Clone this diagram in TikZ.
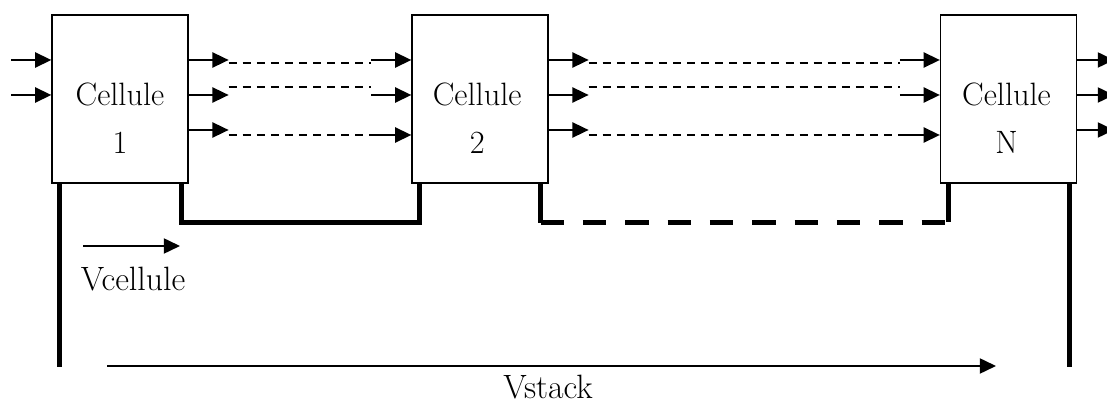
\documentclass[tikz,border=0pt]{standalone}
\usepackage{fontspec}
\usetikzlibrary{arrows.meta}

\tikzset{
  cell/.style={draw,line width=0.9pt,minimum width=3.4cm,minimum height=4.2cm,inner sep=0pt},
  celltext/.style={align=center,font=\fontsize{23}{27.6}\selectfont},
  sig/.style={line width=1.4pt,-{Triangle[length=11.5pt,width=10.7pt]}},
  thindash/.style={line width=1.4pt,dash pattern=on 5.7pt off 4.3pt},
  wire/.style={line width=3.6pt},
  wiredash/.style={line width=3.6pt,dash pattern=on 16.6pt off 13.5pt},
  volt/.style={font=\fontsize{24}{28}\selectfont,anchor=base,inner sep=1pt}
}

\begin{document}
\begin{tikzpicture}[x=0.025cm,y=-0.025cm,line join=miter]
  \useasboundingbox (0,0) rectangle (1107,405);

  % cells
  \node[cell] (c1) at (120,99) {};
  \node[cell] (c2) at (480,99) {};
  \node[cell] (cN) at (1008.5,99) {};
  \node[celltext] (t1) at ([yshift=-0.48cm]c1.center) {Cellule\\[7.2pt]1};
  \node[celltext] (t2) at ([yshift=-0.48cm,xshift=-0.07cm]c2.center) {Cellule\\[7.2pt]2};
  \node[celltext] (tN) at ([yshift=-0.48cm,xshift=-0.05cm]cN.center) {Cellule\\[7.2pt]N};

  % inputs of cell 1
  \foreach \y in {60,95} {
    \coordinate (in) at (11,\y);
    \draw[sig] (in) -- (c1.west |- in);
  }

  % links between cells
  \foreach \src/\dst in {c1/c2,c2/cN} {
    \foreach \yo/\yd/\yi in {60/63/60,95/87/95,130/135/135} {
      \path (\src.east |- 0,\yo) ++(40,0) coordinate (a);
      \path (\dst.west |- 0,\yi) ++(-40,0) coordinate (b);
      \draw[sig] (\src.east |- a) -- (a);
      \draw[thindash] (a |- 0,\yd) -- (b |- 0,\yd);
      \draw[sig] (b) -- (\dst.west |- b);
    }
  }

  % outputs of cell N
  \foreach \y in {60,95,130} {
    \coordinate (out) at (1114,\y);
    \draw[sig] (cN.east |- out) -- (out);
  }

  % series wiring
  \coordinate (l1) at ([xshift=0.2cm]c1.south west);
  \coordinate (r1) at ([xshift=-0.175cm]c1.south east);
  \coordinate (l2) at ([xshift=0.2cm]c2.south west);
  \coordinate (r2) at ([xshift=-0.2cm]c2.south east);
  \coordinate (lN) at ([xshift=0.225cm]cN.south west);
  \coordinate (rN) at ([xshift=-0.2cm]cN.south east);
  \draw[wire] (r1) -- ++(0,39) -| (l2);
  \draw[wire] (r2) -- ++(0,39) coordinate (r2b);
  \draw[wire] (lN) -- ++(0,38) coordinate (lNb);
  \draw[wiredash] (r2b) -- (lNb |- r2b);
  \draw[wire] (l1) -- ++(0,183);
  \draw[wire] (rN) -- ++(0,183);

  % voltages
  \coordinate (vc) at (83,246);
  \draw[sig] (vc) -- ++(97,0);
  \node[volt] (vcl) at (133,291) {Vcellule};
  \coordinate (vs) at (107,366);
  \draw[sig] (vs) -- ++(889,0);
  \node[volt] (vsl) at (548,399) {Vstack};
\end{tikzpicture}
\end{document}
